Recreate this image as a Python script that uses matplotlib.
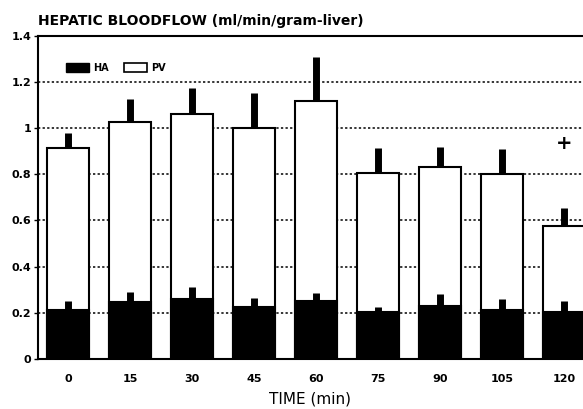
import numpy as np
from matplotlib import pyplot as plt
from matplotlib.patches import Patch

times = ['0', '15', '30', '45', '60', '75', '90', '105', '120']
total_flow = [0.915, 1.025, 1.063, 1.0, 1.117, 0.804, 0.833, 0.801, 0.577]
total_sd = [0.063, 0.103, 0.109, 0.15, 0.19, 0.108, 0.086, 0.107, 0.078]
ha_flow = [0.212, 0.247, 0.261, 0.224, 0.252, 0.205, 0.231, 0.212, 0.202]
ha_sd = [0.038, 0.044, 0.052, 0.039, 0.032, 0.019, 0.050, 0.046, 0.049]
signif = ['', '', '', '', '', '', '', '', '+']
yticks = [0, 0.2, 0.4, 0.6, 0.8, 1, 1.2, 1.4]
ytick_labels = ['0', '0.2', '0.4', '0.6', '0.8', '1', '1.2', '1.4']

fig = plt.figure(figsize=(5.83, 4.09), dpi=100)
ax = fig.add_axes([0.0647, 0.1222, 0.9353, 0.7905])

x = np.arange(len(times))
w = 0.68

# dotted grid behind the bars
for yv in yticks[1:-1]:
    ax.axhline(yv, color='black', lw=1.1, ls=(0, (1.5, 1.5)), zorder=0)

ax.bar(x, total_flow, width=w, color='white', edgecolor='black', lw=1.5, zorder=2)
ax.bar(x, ha_flow, width=w, color='black', edgecolor='black', lw=1.5, zorder=3)

zeros = np.zeros(len(times))
ax.errorbar(x, total_flow, yerr=[zeros, total_sd], fmt='none', ecolor='black',
            elinewidth=5, capsize=0, zorder=4)
ax.errorbar(x, ha_flow, yerr=[zeros, ha_sd], fmt='none', ecolor='black',
            elinewidth=5, capsize=0, zorder=4)

for i, s in enumerate(signif):
    if s:
        ax.text(x[i], total_flow[i] + total_sd[i] + 0.28, s, ha='center', va='center',
                fontsize=14, fontweight='bold')

ax.set_xlim(-0.49, 8.306)
ax.set_ylim(0, 1.4)
ax.set_xticks(x)
ax.set_xticklabels(times, fontsize=8, fontweight='bold')
ax.set_yticks(yticks)
ax.set_yticklabels(ytick_labels, fontsize=8, fontweight='bold')
ax.tick_params(axis='x', length=0, pad=11)
ax.tick_params(axis='y', length=3, width=1, pad=1.5)
ax.set_xlabel('TIME (min)', fontsize=11, labelpad=5)

for sp in ['left', 'bottom', 'top']:
    ax.spines[sp].set_linewidth(1.5)
ax.spines['right'].set_visible(False)

handles = [Patch(facecolor='black', edgecolor='black', label='HA'),
           Patch(facecolor='white', edgecolor='black', lw=1.2, label='PV')]
leg = ax.legend(handles=handles, ncol=2, loc='center left', bbox_to_anchor=(0.035, 0.9),
                frameon=False, handlelength=2.4, handleheight=1.1, handletextpad=0.4,
                columnspacing=1.6, prop={'size': 7, 'weight': 'bold'})

fig.text(0.066, 0.949, 'HEPATIC BLOODFLOW (ml/min/gram-liver)', fontsize=10,
         fontweight='bold', va='center', ha='left')

fig.savefig('out.png', dpi=100)
